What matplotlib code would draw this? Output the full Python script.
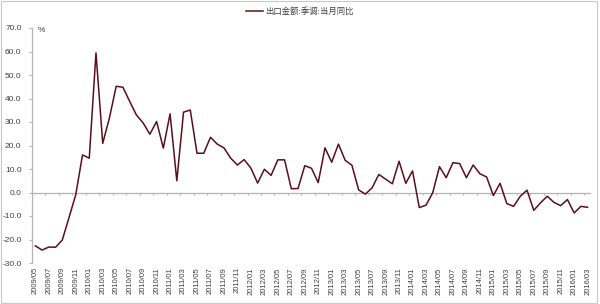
import matplotlib
matplotlib.use("Agg")
import matplotlib.pyplot as plt
import numpy as np
from matplotlib.patches import Rectangle

plt.rcParams['font.family'] = ['Liberation Sans', 'Noto Sans CJK SC', 'DejaVu Sans']

series_name = "出口金额:季调:当月同比"
y_unit = "%"

months = []
y, m = 2009, 5
while (y, m) <= (2016, 3):
    months.append(f"{y}/{m:02d}")
    m += 1
    if m > 12:
        m = 1
        y += 1

values = [
    -22.7, -24.5, -23.2, -23.3, -20.2, -10.6, -0.9, 16.0, 14.6, 59.4,
    20.9, 31.8, 45.2, 44.8, 38.8, 33.0, 29.6, 24.8, 30.2, 18.9,
    33.5, 5.0, 34.2, 35.1, 16.7, 16.7, 23.5, 20.6, 19.0, 14.6,
    11.7, 14.0, 10.4, 4.0, 9.9, 7.3, 13.9, 13.9, 1.6, 1.7,
    11.4, 10.3, 4.2, 19.0, 12.9, 20.6, 13.7, 11.6, 1.1, -0.7,
    2.0, 7.7, 5.7, 3.7, 13.3, 3.9, 9.2, -6.4, -5.4, -0.1,
    11.0, 6.3, 12.7, 12.3, 6.3, 11.7, 8.0, 6.6, -1.3, 3.9,
    -4.7, -5.9, -1.6, 1.0, -7.6, -4.4, -1.6, -4.2, -5.6, -3.0,
    -8.7, -5.9, -6.3,
]

yticks = np.arange(-30, 71, 10)

W, H = 600, 304
fig = plt.figure(figsize=(W / 100, H / 100), dpi=100)
fig.patch.set_facecolor('white')

ax = fig.add_axes([32 / W, (H - 263) / H, (591 - 32) / W, (263 - 28) / H])
ax.set_facecolor('none')

x = np.arange(len(values))
line_color = '#5a0f1c'
ax.plot(x, values, color=line_color, lw=1.1, zorder=3, label=series_name)

ax.set_xlim(-0.5, len(values) - 0.5)
ax.set_ylim(-30, 70)

# zero line with small tick marks
ax.axhline(0, color='#b4b4b4', lw=0.9, zorder=1)
ax.vlines(np.arange(-0.5, len(values), 2), -1.0, 0, color='#b4b4b4', lw=0.8, zorder=1)

for s in ['top', 'right', 'bottom']:
    ax.spines[s].set_visible(False)
ax.spines['left'].set_color('#b4b4b4')
ax.spines['left'].set_linewidth(0.9)

ax.set_yticks(yticks)
ax.set_yticklabels([f"{v:.1f}" for v in yticks], fontsize=6, color='#404040')
ax.tick_params(axis='y', direction='out', length=2.5, width=0.8, color='#b4b4b4', pad=5)

ax.set_xticks(x[::2])
ax.set_xticklabels(months[::2], rotation=90, fontsize=5.5, color='#404040')
ax.tick_params(axis='x', length=0, pad=3)

fig.text(38 / W, 1 - 31 / H, y_unit, fontsize=6, color='#404040', ha='left', va='center')

leg = fig.legend(loc='center', bbox_to_anchor=(300 / W, 1 - 12 / H), frameon=False,
                 fontsize=6, handlelength=2.0, handletextpad=0.3)
for t in leg.get_texts():
    t.set_color('#404040')

fig.patches.append(Rectangle((0.5 / W, 1.5 / H), 596.5 / W, 302 / H, transform=fig.transFigure,
                             fill=False, edgecolor='#c8c8c8', lw=0.8))

fig.savefig('out.png', dpi=100, facecolor='white')
